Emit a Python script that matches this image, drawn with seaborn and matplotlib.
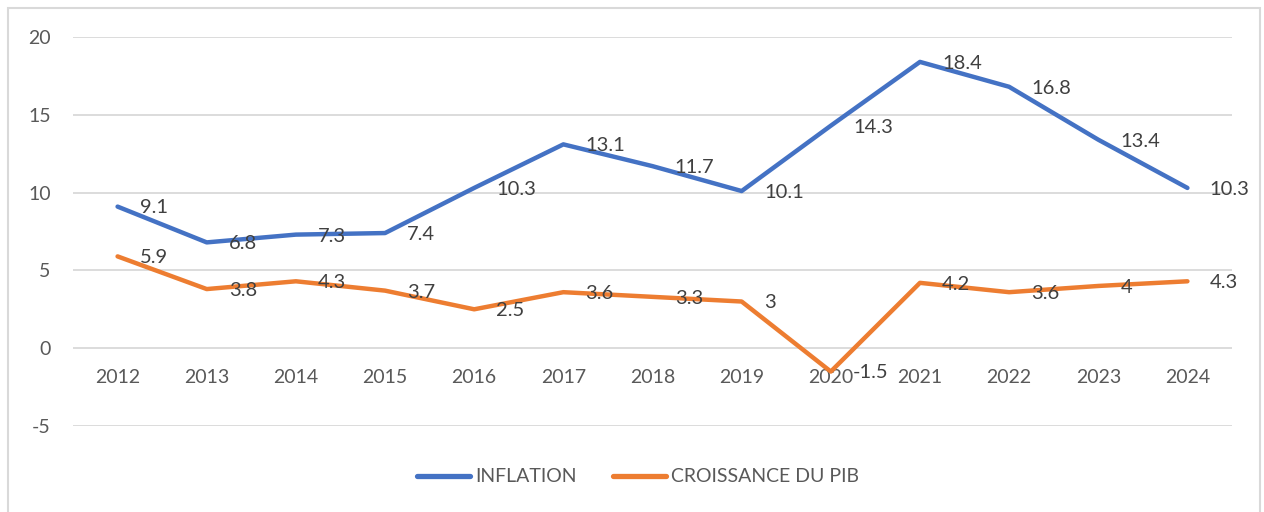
import pandas as pd
import numpy as np
import matplotlib
matplotlib.use("Agg")
import matplotlib.pyplot as plt
import seaborn as sns
from matplotlib.patches import Rectangle

years = [2012, 2013, 2014, 2015, 2016, 2017, 2018, 2019, 2020, 2021, 2022, 2023, 2024]
inflation = [9.1, 6.8, 7.3, 7.4, 10.3, 13.1, 11.7, 10.1, 14.3, 18.4, 16.8, 13.4, 10.3]
croissance_pib = [5.9, 3.8, 4.3, 3.7, 2.5, 3.6, 3.3, 3, -1.5, 4.2, 3.6, 4, 4.3]
series_names = ["INFLATION", "CROISSANCE DU PIB"]
colors = ["#4472C4", "#ED7D31"]
y_ticks = [-5, 0, 5, 10, 15, 20]

df = pd.concat([
    pd.DataFrame({"year": years, "value": inflation, "serie": series_names[0]}),
    pd.DataFrame({"year": years, "value": croissance_pib, "serie": series_names[1]}),
])

sns.set_style("white")
plt.rcParams['font.family'] = ['Lato', 'DejaVu Sans']
plt.rcParams['axes.unicode_minus'] = False

fig = plt.figure(figsize=(12.64, 5.12), dpi=100)
ax = fig.add_axes([73 / 1264, 1 - 426 / 512, (1232 - 73) / 1264, (426 - 37) / 512])

# chart border
fig.patches.append(Rectangle((8 / 1264, -0.05), (1260 - 8) / 1264, 1 - 8 / 512 + 0.05,
                             transform=fig.transFigure, fill=False,
                             edgecolor="#D9D9D9", linewidth=1.5))

sns.lineplot(data=df, x="year", y="value", hue="serie", palette=colors,
             linewidth=3.2, sort=False, ax=ax, legend=True)
for line in ax.get_lines():
    line.set_solid_capstyle("round")
    line.set_solid_joinstyle("round")

# data labels to the right of the points
for vals in (inflation, croissance_pib):
    for x, v in zip(years, vals):
        ax.annotate(f"{v:g}", xy=(x, v), xytext=(16, -1), textcoords="offset points",
                    ha="left", va="center", fontsize=14.5, color="#404040")

ax.set_xlim(years[0] - 0.5, years[-1] + 0.5)
ax.set_ylim(-5, 20)
ax.set_yticks(y_ticks)
ax.set_xticks(years)
ax.set_xticklabels([str(y) for y in years])
ax.yaxis.grid(True, color="#D9D9D9", linewidth=1.3)
ax.xaxis.grid(False)
for s in ax.spines.values():
    s.set_visible(False)
ax.spines['bottom'].set_position(('data', 0))
ax.tick_params(axis="both", length=0, labelsize=14, labelcolor="#595959")
ax.tick_params(axis="x", pad=15)
ax.tick_params(axis="y", pad=16)
ax.set_xlabel("")
ax.set_ylabel("")

handles, labels = ax.get_legend_handles_labels()
ax.get_legend().remove()
leg = fig.legend(handles, labels, loc="center", bbox_to_anchor=(638 / 1264, 1 - 477 / 512),
                 ncol=2, frameon=False, fontsize=14, handlelength=2.7,
                 handletextpad=0.25, columnspacing=1.9)
for t in leg.get_texts():
    t.set_color("#595959")
for h in leg.get_lines():
    h.set_linewidth(3.8)
    h.set_solid_capstyle("round")

fig.savefig("out.png", dpi=100)
